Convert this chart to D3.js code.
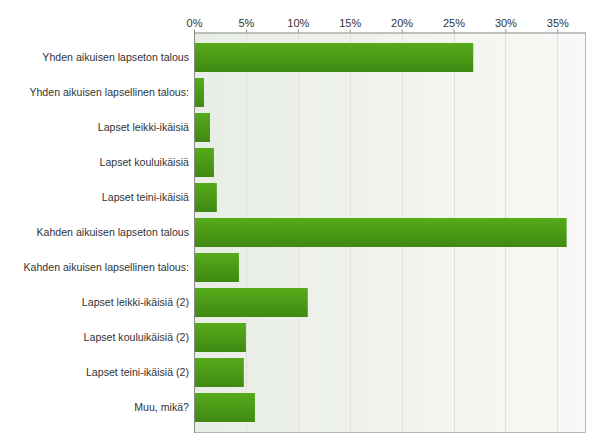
<!DOCTYPE html>
<html><head><meta charset="utf-8">
<script src="https://cdn.jsdelivr.net/npm/d3@7"></script>
<style>body{margin:0;background:#fff;}svg{display:block;}</style>
</head><body>
<script>
const categories = ["Yhden aikuisen lapseton talous","Yhden aikuisen lapsellinen talous:","Lapset leikki-ikäisiä","Lapset kouluikäisiä","Lapset teini-ikäisiä","Kahden aikuisen lapseton talous","Kahden aikuisen lapsellinen talous:","Lapset leikki-ikäisiä (2)","Lapset kouluikäisiä (2)","Lapset teini-ikäisiä (2)","Muu, mikä?"];
const values = [26.9, 0.96, 1.54, 1.92, 2.2, 35.9, 4.33, 10.96, 5.0, 4.8, 5.87];
const tickValues = [0,5,10,15,20,25,30,35];

const W=600,H=447;
const L=194,R=585.5,T=32.5,B=432.5;
const svg=d3.select("body").append("svg").attr("width",W).attr("height",H);
const defs=svg.append("defs");
const bg=defs.append("linearGradient").attr("id","bg").attr("x1","0").attr("x2","1").attr("y1","0").attr("y2","0");
bg.append("stop").attr("offset","0").attr("stop-color","#e8ede5");
bg.append("stop").attr("offset","1").attr("stop-color","#f8f9f6");
const bar=defs.append("linearGradient").attr("id","bar").attr("x1","0").attr("x2","0").attr("y1","0").attr("y2","1");
bar.append("stop").attr("offset","0").attr("stop-color","#56ab19");
bar.append("stop").attr("offset","1").attr("stop-color","#3f8913");

const x=d3.scaleLinear().domain([0,35]).range([L,557.3]);
const y=d3.scaleBand().domain(categories).range([T,B]).paddingInner(6/35).paddingOuter(0.3);

svg.append("rect").attr("x",L).attr("y",T).attr("width",R-L).attr("height",B-T).attr("fill","url(#bg)");
svg.append("g").selectAll("line").data(tickValues.slice(1)).join("line")
 .attr("x1",d=>Math.round(x(d))+0.5).attr("x2",d=>Math.round(x(d))+0.5).attr("y1",T).attr("y2",B)
 .attr("stroke","#dfe2dc").attr("stroke-width",1);
svg.append("line").attr("x1",R).attr("x2",R).attr("y1",T).attr("y2",B).attr("stroke","#b5b5b5");
svg.append("line").attr("x1",L).attr("x2",R).attr("y1",B).attr("y2",B).attr("stroke","#b5b5b5");

svg.append("g").selectAll("rect").data(values).join("rect")
 .attr("x",L).attr("y",(d,i)=>y(categories[i])).attr("height",y.bandwidth())
 .attr("width",d=>x(d)-L).attr("fill","url(#bar)");

const ax=d3.axisTop(x).tickValues(tickValues).tickFormat(d=>d+"%").tickSize(3).tickSizeOuter(0);
const g=svg.append("g").attr("transform",`translate(0,${T})`).call(ax);
g.select(".domain").attr("stroke","#8a8a8a").attr("d",`M${L},0.5H${R}`);
g.selectAll(".tick line").attr("stroke","#8a8a8a");
g.selectAll("text").attr("font-family","Liberation Sans, Arial, sans-serif").attr("font-size","11px").attr("fill","#333").attr("dy","0");
g.selectAll(".tick text").attr("y",-6);
svg.append("line").attr("x1",L+0.5).attr("x2",L+0.5).attr("y1",T).attr("y2",B+0.5).attr("stroke","#8a8a8a");

svg.append("g").selectAll("text").data(categories).join("text")
 .attr("x",189).attr("y",d=>y(d)+y.bandwidth()/2).attr("dy","0.35em").attr("text-anchor","end")
 .attr("font-family","Liberation Sans, Arial, sans-serif").attr("font-size","10.6px").attr("fill","#333").text(d=>d);
</script>
</body></html>
